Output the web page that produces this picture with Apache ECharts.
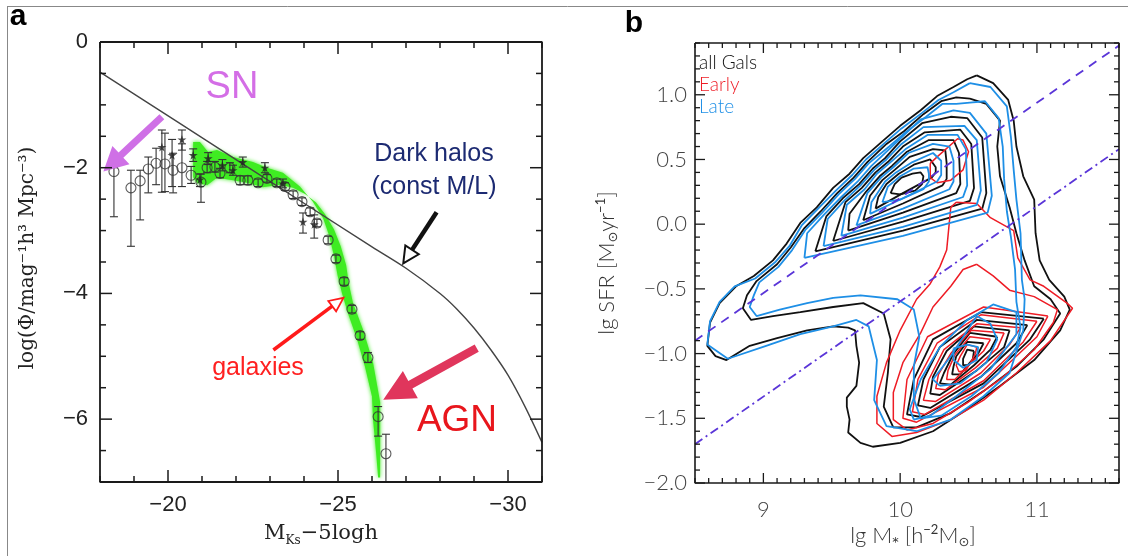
<!DOCTYPE html>
<html>
<head>
<meta charset="utf-8">
<script src="https://cdn.jsdelivr.net/npm/echarts@6/dist/echarts.min.js"></script>
<style>
html,body{margin:0;padding:0;background:#fff;}
#chart{width:1128px;height:556px;}
</style>
</head>
<body>
<div id="chart"></div>
<script>
// ---------------- Panel a: K-band luminosity function ----------------
const aXLabels = [-20, -25, -30];
const aYLabels = [0, -2, -4, -6];

// constant M/L dark-halo curve  [M_K - 5logh, log Phi]
const haloCurve = [[-18, -0.48], [-22, -1.87], [-26, -3.26], [-27, -3.60], [-28, -4.00],
  [-28.5, -4.25], [-29, -4.55], [-29.5, -4.90], [-30, -5.30], [-30.5, -5.80], [-31, -6.37]];

// green band of the model luminosity function
const bandUpperEdge = [[-20.74,-1.59],[-20.94,-1.59],[-21.18,-1.75],[-21.44,-1.72],[-21.91,-1.83],
  [-22.50,-1.91],[-22.91,-2.00],[-23.38,-2.08],[-23.88,-2.30],[-24.26,-2.54],[-24.56,-2.80],
  [-24.74,-3.08],[-24.88,-3.40],[-24.99,-3.72],[-25.12,-4.00],[-25.29,-4.31],[-25.56,-4.73],
  [-25.79,-5.16],[-26.00,-5.64],[-26.03,-6.00],[-26.12,-6.53],[-26.18,-6.93]];
const bandLowerEdge = [[-26.24,-6.93],[-26.24,-6.43],[-26.24,-5.73],[-26.03,-5.10],[-25.74,-4.58],
  [-25.44,-4.15],[-25.32,-3.85],[-25.24,-3.55],[-25.08,-3.25],[-24.88,-2.98],[-24.62,-2.74],
  [-24.35,-2.55],[-24.03,-2.42],[-23.68,-2.32],[-23.29,-2.27],[-22.79,-2.31],[-22.32,-2.24],
  [-21.91,-2.20],[-21.44,-2.16],[-21.15,-2.28],[-20.85,-2.24],[-20.74,-2.15]];

// measurements: [M, log Phi, lower error end, upper error end]
const openCircles = [
  [-18.41,-2.06,-2.78,-2.00],[-18.91,-2.32,-3.25,-2.04],[-19.18,-2.21,-2.83,-2.04],
  [-19.42,-2.02,-2.40,-1.83],[-19.65,-1.93,-2.27,-1.69],[-19.91,-1.94,-2.38,-1.45],
  [-20.15,-2.04,-2.40,-1.77],[-20.41,-2.00,-2.30,-1.62],[-20.68,-2.12,-2.25,-1.98],
  [-20.97,-2.23,-2.55,-2.10],[-21.15,-2.00,-2.08,-1.90],[-21.38,-1.99,-2.07,-1.90],
  [-21.53,-2.09,-2.16,-2.01],[-21.82,-2.00,-2.08,-1.92],[-22.12,-2.20,-2.27,-2.13],
  [-22.35,-2.20,-2.27,-2.13],[-22.65,-2.24,-2.30,-2.18],[-22.91,-2.17,-2.23,-2.11],
  [-23.20,-2.24,-2.30,-2.18],[-23.44,-2.30,-2.36,-2.24],[-23.68,-2.43,-2.49,-2.37],
  [-23.94,-2.54,-2.60,-2.48],[-24.18,-2.70,-2.76,-2.64],[-24.38,-2.88,-2.94,-2.82],
  [-24.71,-3.15,-3.21,-3.09],[-24.94,-3.45,-3.51,-3.39],[-25.18,-3.81,-3.87,-3.75],
  [-25.41,-4.25,-4.31,-4.19],[-25.65,-4.67,-4.73,-4.61],[-25.88,-5.02,-5.10,-4.94],
  [-26.18,-5.96,-6.27,-5.80],[-26.41,-6.55,-7.00,-6.24]];
const starPoints = [
  [-19.82,-1.67,-2.39,-1.40],[-20.12,-1.80,-2.30,-1.55],[-20.41,-1.55,-1.72,-1.40],
  [-20.74,-1.80,-1.90,-1.70],[-20.94,-2.19,-2.30,-2.10],[-21.18,-1.85,-1.95,-1.76],
  [-21.60,-1.96,-2.05,-1.87],[-21.91,-2.04,-2.12,-1.96],[-22.20,-1.91,-1.99,-1.83],
  [-22.85,-2.00,-2.08,-1.92],[-23.38,-2.25,-2.32,-2.18],[-23.97,-2.86,-3.04,-2.72],
  [-24.30,-2.90,-3.12,-2.75]];

// annotation arrows: [tail M, tail logPhi, tip M, tip logPhi]  (SN, halos, galaxies, AGN)
const arrowEnds = [[-19.82,-1.19,-18.10,-2.06],[-27.90,-2.71,-26.92,-3.52],
  [-23.10,-4.90,-25.16,-4.07],[-29.08,-4.87,-26.33,-5.69]];

// ---------------- Panel b: SFR vs stellar mass contours ----------------
const bXLabels = [9, 10, 11];
const bYLabels = [-2, -1.5, -1, -0.5, 0, 0.5, 1];

const ridgeDashed  = [[8.5, -0.90], [11.6, 1.38]];
const ridgeDashDot = [[8.5, -1.70], [11.6, 0.58]];

// all galaxies (black)
const allGalsContours = [
  [[10.56,1.15],[10.68,1.09],[10.79,0.96],[10.83,0.80],[10.85,0.60],[10.90,0.37],[10.98,0.19],[10.99,-0.07],[11.02,-0.28],[11.09,-0.43],[11.20,-0.56],[11.24,-0.66],[11.17,-0.82],[10.98,-1.05],[10.73,-1.25],[10.49,-1.43],[10.24,-1.60],[10.00,-1.69],[9.80,-1.72],[9.71,-1.69],[9.62,-1.61],[9.63,-1.51],[9.61,-1.41],[9.61,-1.34],[9.68,-1.25],[9.70,-1.07],[9.68,-0.94],[9.67,-0.82],[9.62,-0.80],[9.51,-0.79],[9.32,-0.82],[9.10,-0.88],[8.90,-0.94],[8.73,-1.05],[8.65,-1.02],[8.59,-0.94],[8.61,-0.76],[8.68,-0.61],[8.80,-0.48],[8.93,-0.40],[9.07,-0.28],[9.17,-0.15],[9.27,0.01],[9.39,0.13],[9.51,0.28],[9.63,0.39],[9.73,0.51],[9.88,0.65],[10.00,0.76],[10.15,0.88],[10.27,0.99],[10.39,1.06],[10.49,1.12]],
  [[10.51,0.97],[10.63,0.93],[10.73,0.80],[10.71,0.60],[10.73,0.37],[10.80,0.13],[10.85,-0.07],[10.91,-0.28],[10.98,-0.48],[11.10,-0.58],[11.17,-0.69],[11.05,-0.89],[10.85,-1.10],[10.61,-1.29],[10.37,-1.46],[10.12,-1.57],[9.95,-1.57],[9.88,-1.41],[9.91,-1.15],[9.93,-0.89],[9.88,-0.69],[9.73,-0.61],[9.51,-0.64],[9.27,-0.68],[9.07,-0.71],[8.91,-0.74],[8.85,-0.65],[8.88,-0.55],[8.95,-0.44],[9.10,-0.31],[9.20,-0.18],[9.30,-0.03],[9.42,0.10],[9.54,0.24],[9.66,0.36],[9.76,0.48],[9.90,0.62],[10.03,0.72],[10.17,0.85],[10.30,0.95],[10.41,0.98]],
  [[9.38,-0.21],[9.46,0.06],[9.58,0.20],[9.70,0.31],[9.80,0.43],[9.89,0.51],[10.00,0.64],[10.16,0.78],[10.37,0.83],[10.49,0.82],[10.60,0.67],[10.63,0.24],[10.60,0.12],[10.02,-0.05]],
  [[9.51,-0.13],[9.60,0.17],[9.72,0.28],[9.82,0.40],[9.91,0.48],[10.02,0.60],[10.18,0.71],[10.44,0.73],[10.52,0.62],[10.54,0.28],[10.51,0.18],[10.02,0.02]],
  [[9.62,-0.05],[9.63,0.08],[9.75,0.25],[9.85,0.37],[9.94,0.45],[10.05,0.56],[10.21,0.65],[10.39,0.65],[10.43,0.55],[10.44,0.31],[10.41,0.24],[10.02,0.09]],
  [[9.73,0.03],[9.78,0.22],[9.87,0.34],[9.96,0.42],[10.07,0.52],[10.24,0.58],[10.33,0.57],[10.34,0.47],[10.34,0.35],[10.31,0.30],[10.02,0.16]],
  [[9.82,0.12],[9.84,0.21],[9.90,0.31],[9.99,0.39],[10.10,0.46],[10.22,0.50],[10.26,0.44],[10.26,0.40],[10.23,0.36],[10.02,0.24]],
  [[9.93,0.24],[9.96,0.31],[10.01,0.36],[10.09,0.39],[10.15,0.40],[10.17,0.37],[10.16,0.31],[10.11,0.26],[10.00,0.23]],
  [[11.05,-0.73],[10.59,-0.68],[10.24,-0.89],[10.10,-1.20],[10.05,-1.47],[10.15,-1.49],[10.61,-1.23],[10.95,-0.89]],
  [[10.93,-0.78],[10.56,-0.74],[10.29,-0.95],[10.17,-1.20],[10.13,-1.40],[10.22,-1.42],[10.59,-1.18],[10.85,-0.92]],
  [[10.80,-0.82],[10.54,-0.79],[10.34,-0.98],[10.24,-1.18],[10.22,-1.31],[10.29,-1.32],[10.56,-1.13],[10.76,-0.95]],
  [[10.71,-0.87],[10.51,-0.84],[10.39,-1.00],[10.32,-1.15],[10.29,-1.23],[10.37,-1.24],[10.54,-1.09],[10.66,-0.97]],
  [[10.61,-0.92],[10.49,-0.91],[10.41,-1.02],[10.39,-1.10],[10.38,-1.16],[10.44,-1.16],[10.51,-1.07],[10.57,-1.00]],
  [[10.54,-0.98],[10.49,-0.97],[10.46,-1.04],[10.46,-1.09],[10.50,-1.09],[10.53,-1.05]]
];

// early types (red)
const earlyContours = [
  [[10.41,0.17],[10.56,0.16],[10.66,0.05],[10.83,-0.05],[10.86,-0.26],[10.95,-0.43],[11.05,-0.48],[11.22,-0.61],[11.26,-0.65],[11.10,-0.90],[10.85,-1.15],[10.61,-1.36],[10.37,-1.51],[10.12,-1.61],[9.94,-1.64],[9.83,-1.54],[9.83,-1.33],[9.90,-1.07],[10.00,-0.82],[10.12,-0.58],[10.22,-0.46],[10.29,-0.33],[10.34,-0.20],[10.37,0.13]],
  [[10.56,-0.31],[10.68,-0.40],[10.80,-0.51],[10.98,-0.56],[11.15,-0.66],[11.12,-0.76],[10.98,-0.97],[10.73,-1.20],[10.49,-1.38],[10.24,-1.54],[10.05,-1.59],[9.95,-1.51],[9.95,-1.30],[10.02,-1.07],[10.15,-0.84],[10.24,-0.64],[10.37,-0.48],[10.46,-0.35]],
  [[11.08,-0.71],[10.61,-0.64],[10.20,-0.87],[10.05,-1.20],[10.02,-1.50],[10.12,-1.53],[10.61,-1.26],[11.00,-0.87]],
  [[11.00,-0.75],[10.59,-0.70],[10.27,-0.92],[10.13,-1.20],[10.09,-1.45],[10.18,-1.47],[10.61,-1.21],[10.90,-0.91]],
  [[10.88,-0.80],[10.56,-0.77],[10.32,-0.97],[10.21,-1.20],[10.17,-1.36],[10.26,-1.37],[10.59,-1.15],[10.80,-0.93]],
  [[10.76,-0.84],[10.52,-0.82],[10.37,-1.00],[10.28,-1.16],[10.26,-1.27],[10.33,-1.28],[10.55,-1.11],[10.71,-0.96]],
  [[10.66,-0.89],[10.51,-0.87],[10.40,-1.01],[10.35,-1.13],[10.34,-1.20],[10.40,-1.20],[10.52,-1.07],[10.61,-0.98]],
  [[10.56,-0.95],[10.49,-0.93],[10.44,-1.02],[10.41,-1.09],[10.43,-1.14],[10.48,-1.13],[10.52,-1.06],[10.55,-1.00]],
  [[10.22,0.47],[10.27,0.52],[10.42,0.66],[10.46,0.65],[10.50,0.56],[10.46,0.42],[10.37,0.34],[10.27,0.32],[10.22,0.36]]
];

// late types (blue)
const lateContours = [
  [[10.51,1.09],[10.66,1.06],[10.78,0.91],[10.81,0.67],[10.83,0.42],[10.85,0.19],[10.88,-0.07],[10.89,-0.43],[10.91,-0.58],[10.90,-0.82],[10.80,-1.15],[10.61,-1.33],[10.37,-1.51],[10.12,-1.60],[9.90,-1.56],[9.81,-1.36],[9.83,-1.05],[9.77,-0.79],[9.68,-0.74],[9.51,-0.79],[9.27,-0.85],[9.02,-0.94],[8.74,-1.04],[8.59,-0.93],[8.61,-0.75],[8.68,-0.60],[8.79,-0.48],[8.94,-0.42],[9.09,-0.29],[9.19,-0.17],[9.28,-0.01],[9.40,0.12],[9.53,0.26],[9.65,0.38],[9.75,0.50],[9.89,0.63],[10.01,0.74],[10.16,0.86],[10.28,0.96],[10.39,1.02]],
  [[10.51,0.94],[10.62,0.95],[10.72,0.82],[10.75,0.60],[10.76,0.35],[10.78,0.10],[10.81,-0.10],[10.84,-0.35],[10.85,-0.60],[10.88,-0.80],[10.85,-0.95],[10.72,-1.15],[10.52,-1.33],[10.30,-1.48],[10.15,-1.50],[10.10,-1.35],[10.10,-1.10],[10.14,-0.87],[10.10,-0.66],[9.98,-0.58],[9.71,-0.55],[9.51,-0.57],[9.32,-0.61],[9.12,-0.66],[8.95,-0.71],[8.90,-0.64],[8.93,-0.55],[8.97,-0.45],[9.11,-0.33],[9.21,-0.20],[9.31,-0.04],[9.43,0.09],[9.55,0.23],[9.67,0.35],[9.77,0.47],[9.92,0.60],[10.04,0.71],[10.19,0.83],[10.31,0.93],[10.41,0.93]],
  [[9.30,-0.26],[9.32,-0.07],[9.44,0.07],[9.57,0.21],[9.69,0.33],[9.79,0.45],[9.87,0.53],[9.99,0.65],[10.15,0.81],[10.39,0.88],[10.51,0.86],[10.63,0.70],[10.67,0.22],[10.64,0.09],[10.02,-0.09]],
  [[9.44,-0.17],[9.47,0.04],[9.59,0.18],[9.71,0.30],[9.81,0.42],[9.90,0.50],[10.01,0.62],[10.17,0.75],[10.47,0.76],[10.56,0.65],[10.59,0.26],[10.56,0.15],[10.02,-0.02]],
  [[9.57,-0.09],[9.61,0.15],[9.74,0.27],[9.83,0.39],[9.92,0.47],[10.04,0.58],[10.20,0.69],[10.42,0.69],[10.48,0.58],[10.49,0.30],[10.46,0.21],[10.02,0.05]],
  [[9.68,-0.01],[9.76,0.24],[9.86,0.36],[9.95,0.44],[10.06,0.55],[10.24,0.62],[10.36,0.60],[10.39,0.49],[10.39,0.33],[10.36,0.27],[10.02,0.12]],
  [[9.78,0.08],[9.79,0.17],[9.89,0.33],[9.97,0.40],[10.09,0.48],[10.24,0.55],[10.30,0.49],[10.30,0.38],[10.27,0.33],[10.02,0.20]],
  [[9.87,0.17],[9.91,0.29],[10.00,0.37],[10.10,0.43],[10.20,0.44],[10.21,0.39],[10.21,0.33],[10.17,0.27],[10.00,0.19]],
  [[10.10,-1.51],[10.07,-1.43],[10.15,-1.20],[10.29,-0.95],[10.49,-0.74],[10.68,-0.62],[10.85,-0.68],[10.85,-0.85],[10.66,-1.12],[10.41,-1.33],[10.22,-1.48]],
  [[10.29,-1.25],[10.24,-1.20],[10.37,-1.02],[10.56,-0.71],[10.66,-0.77],[10.71,-0.89],[10.63,-1.07],[10.44,-1.23]],
  [[10.39,-0.96],[10.49,-0.93],[10.57,-0.95],[10.56,-1.05],[10.46,-1.11],[10.39,-1.05]]
];

// ---------------- drawing ----------------
const chart = echarts.init(document.getElementById('chart'), null, {renderer: 'canvas'});

const minus = v => (v < 0 ? '\u2212' : '') + Math.abs(v);

// panel extents in data units: left/right edge and bottom/top edge
const aExt = {xl: -18, xr: -31, yb: -7, yt: 0};
const bExt = {xl: 8.5, xr: 11.6, yb: -2, yt: 1.4};

// tick positions along each frame edge: [value, isMajor]
function tickList(from, to, step, majors) {
  const out = [];
  const n = Math.round((to - from) / step);
  for (let i = 0; i <= n; i++) {
    const v = +(from + i * step).toFixed(4);
    out.push([v, majors.some(m => Math.abs(m - v) < 1e-6)]);
  }
  return out;
}
const aXTicks = tickList(-31, -18, 1, aXLabels);
const aYTicks = tickList(-7, 0, 0.5, aYLabels);
const bXTicks = tickList(8.5, 11.6, 0.1, bXLabels);
const bYTicks = tickList(-2, 1.4, 0.1, bYLabels);

const aLabelStyle = {fontFamily: 'Liberation Sans', fontSize: 22, color: '#222'};
const bLabelStyle = {fontFamily: 'Lato', fontWeight: 300, fontSize: 22, color: '#444'};

const xAxes = [
  {type: 'value', gridIndex: 0, min: -31, max: -18, interval: 1, inverse: true, splitLine: {show: false},
    axisLine: {show: false}, axisTick: {show: false},
    axisLabel: Object.assign({customValues: aXLabels, margin: 12, formatter: minus}, aLabelStyle)},
  {type: 'value', gridIndex: 1, min: 8.5, max: 11.6, interval: 0.1, splitLine: {show: false},
    axisLine: {show: false}, axisTick: {show: false},
    axisLabel: Object.assign({customValues: bXLabels, margin: 16, formatter: v => String(v)}, bLabelStyle)}
];
const yAxes = [
  {type: 'value', gridIndex: 0, min: -7, max: 0, interval: 0.5, splitLine: {show: false},
    axisLine: {show: false}, axisTick: {show: false},
    axisLabel: Object.assign({customValues: aYLabels, margin: 12, formatter: minus}, aLabelStyle)},
  {type: 'value', gridIndex: 1, min: -2, max: 1.4, interval: 0.1, splitLine: {show: false},
    axisLine: {show: false}, axisTick: {show: false},
    axisLabel: Object.assign({customValues: bYLabels, margin: 8,
      formatter: v => (v < 0 ? '\u2212' : '') + Math.abs(v).toFixed(1)}, bLabelStyle)}
];

const arrowStyles = [
  {color: '#cf70e6', shaft: 7, headW: 25, headLen: 24},
  {color: '#111111', shaft: 4.5, headW: 16, headLen: 16, hollow: true, outline: 2},
  {color: '#ff1a1a', shaft: 3.5, headW: 13, headLen: 14, hollow: true, outline: 1.8},
  {color: '#e0365c', shaft: 8.5, headW: 31, headLen: 31}
];

function arrowItem(params, api) {
  const s = arrowStyles[params.dataIndex];
  const t = api.coord([api.value(0), api.value(1)]);
  const p = api.coord([api.value(2), api.value(3)]);
  const dx = p[0] - t[0], dy = p[1] - t[1], L = Math.hypot(dx, dy);
  const ux = dx / L, uy = dy / L, nx = -uy, ny = ux;
  const bx = p[0] - ux * s.headLen, by = p[1] - uy * s.headLen;
  const H = s.headW / 2;
  if (s.hollow) {
    return {type: 'group', children: [
      {type: 'line', shape: {x1: t[0], y1: t[1], x2: bx, y2: by}, style: {stroke: s.color, lineWidth: s.shaft}},
      {type: 'polygon', shape: {points: [[p[0], p[1]], [bx + nx * H, by + ny * H], [bx - nx * H, by - ny * H]]},
        style: {fill: '#fff', stroke: s.color, lineWidth: s.outline, lineJoin: 'miter'}}
    ]};
  }
  const h = s.shaft / 2;
  return {type: 'polygon', shape: {points: [
    [t[0] + nx * h, t[1] + ny * h], [bx + nx * h, by + ny * h], [bx + nx * H, by + ny * H],
    [p[0], p[1]], [bx - nx * H, by - ny * H], [bx - nx * h, by - ny * h], [t[0] - nx * h, t[1] - ny * h]]},
    style: {fill: s.color}};
}

function errorBarItem(params, api) {
  const x = api.value(0);
  const a = api.coord([x, api.value(3)]);
  const b = api.coord([x, api.value(2)]);
  const w = 4;
  const st = {stroke: '#333', lineWidth: 1.1};
  return {type: 'group', children: [
    {type: 'line', shape: {x1: a[0], y1: a[1], x2: b[0], y2: b[1]}, style: st},
    {type: 'line', shape: {x1: a[0] - w, y1: a[1], x2: a[0] + w, y2: a[1]}, style: st},
    {type: 'line', shape: {x1: b[0] - w, y1: b[1], x2: b[0] + w, y2: b[1]}, style: st}
  ]};
}

// frame ticks: drawn once per panel from the tick lists, positioned by the panel's axes
function frameTicks(ext, xTicks, yTicks, minorLen, majorLen, width, color) {
  return function (params, api) {
    if (params.dataIndex !== 0) return null;
    const st = {stroke: color, lineWidth: width};
    const children = [];
    xTicks.forEach(([v, major]) => {
      const len = major ? majorLen : minorLen;
      const b = api.coord([v, ext.yb]), t = api.coord([v, ext.yt]);
      children.push({type: 'line', shape: {x1: b[0], y1: b[1], x2: b[0], y2: b[1] - len}, style: st});
      children.push({type: 'line', shape: {x1: t[0], y1: t[1], x2: t[0], y2: t[1] + len}, style: st});
    });
    yTicks.forEach(([v, major]) => {
      const len = major ? majorLen : minorLen;
      const l = api.coord([ext.xl, v]), r = api.coord([ext.xr, v]);
      children.push({type: 'line', shape: {x1: l[0], y1: l[1], x2: l[0] + len, y2: l[1]}, style: st});
      children.push({type: 'line', shape: {x1: r[0], y1: r[1], x2: r[0] - len, y2: r[1]}, style: st});
    });
    return {type: 'group', children};
  };
}
const frameBox = ext => [[ext.xl, ext.yt], [ext.xr, ext.yt], [ext.xr, ext.yb], [ext.xl, ext.yb], [ext.xl, ext.yt]];

const bandOutline = bandUpperEdge.concat(bandLowerEdge);
function bandItem(params, api) {
  if (params.dataIndex !== 0) return null;
  return {type: 'polygon', shape: {points: bandOutline.map(p => api.coord(p))},
    style: {fill: '#3fec22', shadowBlur: 4, shadowColor: '#3fec22'}};
}

const closeRing = ring => ring.concat([ring[0]]);
function contourSeries(rings, color, width) {
  return rings.map(r => ({
    type: 'line', xAxisIndex: 1, yAxisIndex: 1, data: closeRing(r), showSymbol: false, symbol: 'none',
    silent: true, animation: false, lineStyle: {color, width}, z: 2
  }));
}

const star = 'path://M50,0 L61,35 L98,35 L68,57 L79,91 L50,70 L21,91 L32,57 L2,35 L39,35 Z';

const frameColor = '#1a1a1a';
const series = [
  {type: 'custom', xAxisIndex: 0, yAxisIndex: 0, data: bandOutline, renderItem: bandItem, silent: true, z: 1, clip: true},
  {type: 'line', xAxisIndex: 0, yAxisIndex: 0, data: haloCurve, smooth: 0.3, showSymbol: false, symbol: 'none',
    lineStyle: {color: '#444', width: 1.4}, silent: true, z: 2},
  {type: 'custom', xAxisIndex: 0, yAxisIndex: 0, data: openCircles.concat(starPoints), renderItem: errorBarItem, silent: true, z: 3},
  {type: 'scatter', xAxisIndex: 0, yAxisIndex: 0, data: openCircles.map(d => [d[0], d[1]]), symbol: 'circle', symbolSize: 10,
    itemStyle: {color: 'rgba(0,0,0,0)', borderColor: '#333', borderWidth: 1.1}, silent: true, z: 4},
  {type: 'scatter', xAxisIndex: 0, yAxisIndex: 0, data: starPoints.map(d => [d[0], d[1]]), symbol: star, symbolSize: 9,
    itemStyle: {color: '#222'}, silent: true, z: 4},
  {type: 'custom', xAxisIndex: 0, yAxisIndex: 0, data: arrowEnds, renderItem: arrowItem, silent: true, z: 6, clip: false},
  // panel frames and ticks
  {type: 'line', xAxisIndex: 0, yAxisIndex: 0, data: frameBox(aExt), showSymbol: false, symbol: 'none', clip: false,
    lineStyle: {color: frameColor, width: 1.8}, silent: true, z: 8},
  {type: 'custom', xAxisIndex: 0, yAxisIndex: 0, data: [[aExt.xl, aExt.yb]], clip: false, silent: true, z: 8,
    renderItem: frameTicks(aExt, aXTicks, aYTicks, 6, 12, 1.5, frameColor)},
  {type: 'line', xAxisIndex: 1, yAxisIndex: 1, data: frameBox(bExt), showSymbol: false, symbol: 'none', clip: false,
    lineStyle: {color: frameColor, width: 1.6}, silent: true, z: 8},
  {type: 'custom', xAxisIndex: 1, yAxisIndex: 1, data: [[bExt.xl, bExt.yb]], clip: false, silent: true, z: 8,
    renderItem: frameTicks(bExt, bXTicks, bYTicks, 5, 10, 1.3, frameColor)}
].concat(
  contourSeries(allGalsContours, '#111111', 1.8),
  contourSeries(earlyContours, '#ee1c25', 1.5),
  contourSeries(lateContours, '#1e8fe6', 1.8),
  [
    {type: 'line', xAxisIndex: 1, yAxisIndex: 1, data: ridgeDashed, showSymbol: false, symbol: 'none',
      lineStyle: {color: '#5a35d8', width: 1.8, type: [9, 7]}, silent: true, z: 3},
    {type: 'line', xAxisIndex: 1, yAxisIndex: 1, data: ridgeDashDot, showSymbol: false, symbol: 'none',
      lineStyle: {color: '#5a35d8', width: 1.8, type: [9, 4, 2, 4]}, silent: true, z: 3}
  ]
);

const serif = '"DejaVu Serif", "Liberation Serif", serif';
const graphic = [
  // figure frame
  {type: 'line', shape: {x1: 7, y1: 6.5, x2: 1128, y2: 6.5}, style: {stroke: '#888', lineWidth: 1}},
  {type: 'line', shape: {x1: 7.5, y1: 6, x2: 7.5, y2: 556}, style: {stroke: '#888', lineWidth: 1}},
  // panel letters
  {type: 'text', x: 18, y: 17, style: {text: 'a', font: 'bold 30px "Liberation Sans", Arial', fill: '#000', align: 'center', verticalAlign: 'middle'}},
  {type: 'text', x: 634, y: 24, style: {text: 'b', font: 'bold 30px "Liberation Sans", Arial', fill: '#000', align: 'center', verticalAlign: 'middle'}},
  // panel a titles
  {type: 'text', x: 28, y: 258, rotation: Math.PI / 2,
    style: {text: 'log(\u03A6/mag\u207B\u00B9h\u00B3 Mpc\u207B\u00B3)', font: '20px ' + serif, fill: '#222', align: 'center', verticalAlign: 'middle'}},
  {type: 'text', x: 321, y: 534, style: {text: '{m|M}{s|Ks}{m|\u22125logh}', align: 'center', verticalAlign: 'middle',
    rich: {m: {fontFamily: serif, fontSize: 21, lineHeight: 26, verticalAlign: 'middle', fill: '#222'},
           s: {fontFamily: serif, fontSize: 12, lineHeight: 12, verticalAlign: 'bottom', fill: '#222'}}}},
  // panel a annotations
  {type: 'text', x: 232, y: 88, style: {text: 'SN', font: '38px "Liberation Sans", Arial', fill: '#d46ee6', align: 'center', verticalAlign: 'middle'}},
  {type: 'text', x: 434, y: 154, style: {text: 'Dark halos', font: '25px "Liberation Sans", Arial', fill: '#1c2a72', align: 'center', verticalAlign: 'middle'}},
  {type: 'text', x: 434, y: 187, style: {text: '(const M/L)', font: '25px "Liberation Sans", Arial', fill: '#1c2a72', align: 'center', verticalAlign: 'middle'}},
  {type: 'text', x: 258, y: 368, style: {text: 'galaxies', font: '25px "Liberation Sans", Arial', fill: '#ff2020', align: 'center', verticalAlign: 'middle'}},
  {type: 'text', x: 457, y: 421, style: {text: 'AGN', font: '37px "Liberation Sans", Arial', fill: '#e8161c', align: 'center', verticalAlign: 'middle'}},
  // panel b legend
  {type: 'text', x: 699, y: 63, style: {text: 'all Gals', font: '300 19px Lato', fill: '#111', align: 'left', verticalAlign: 'middle'}},
  {type: 'text', x: 699, y: 85, style: {text: 'Early', font: '300 19px Lato', fill: '#ee1c25', align: 'left', verticalAlign: 'middle'}},
  {type: 'text', x: 699, y: 107, style: {text: 'Late', font: '300 19px Lato', fill: '#1e8fe6', align: 'left', verticalAlign: 'middle'}},
  // panel b titles
  {type: 'text', x: 607, y: 263, rotation: Math.PI / 2,
    style: {text: '{t|lg SFR [M}{s|\u2299}{t|yr}{p|\u22121}{t|]}', align: 'center', verticalAlign: 'middle',
      rich: {t: {fontFamily: 'Lato', fontWeight: 300, fontSize: 22, lineHeight: 26, verticalAlign: 'middle', fill: '#333'},
             s: {fontFamily: '"DejaVu Sans"', fontSize: 13, lineHeight: 13, verticalAlign: 'bottom', fill: '#333'},
             p: {fontFamily: 'Lato', fontSize: 13, lineHeight: 13, verticalAlign: 'top', fill: '#333'}}}},
  {type: 'text', x: 913, y: 536,
    style: {text: '{t|lg M}{s|*}{t| [h}{p|\u22122}{t|M}{s|\u2299}{t|]}', align: 'center', verticalAlign: 'middle',
      rich: {t: {fontFamily: 'Lato', fontWeight: 300, fontSize: 22, lineHeight: 26, verticalAlign: 'middle', fill: '#333'},
             s: {fontFamily: '"DejaVu Sans"', fontSize: 13, lineHeight: 13, verticalAlign: 'bottom', fill: '#333'},
             p: {fontFamily: 'Lato', fontSize: 13, lineHeight: 13, verticalAlign: 'top', fill: '#333'}}}}
];

chart.setOption({
  animation: false,
  backgroundColor: '#ffffff',
  grid: [
    {left: 100, top: 42, width: 442, height: 440},
    {left: 695, top: 43, width: 424, height: 440}
  ],
  xAxis: xAxes,
  yAxis: yAxes,
  series: series,
  graphic: graphic
});
</script>
</body>
</html>
